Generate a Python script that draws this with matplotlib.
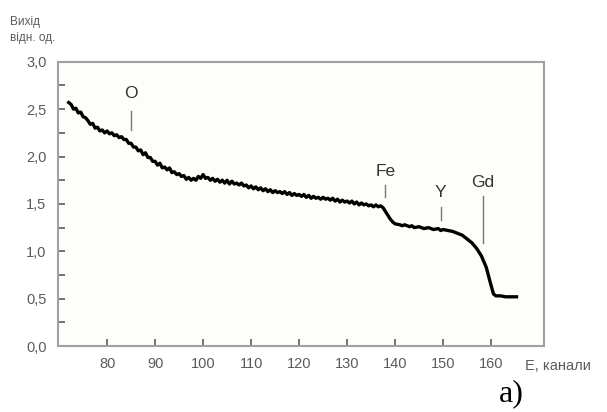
import matplotlib.pyplot as plt
from matplotlib.ticker import MultipleLocator

# вихід по каналах (зчитано з рисунку)
channels = [72, 72.5, 73, 73.5, 74, 74.5, 75, 75.5, 76, 76.5, 77, 77.5, 78, 78.5, 79, 79.5,
            80, 80.5, 81, 81.5, 82, 82.5, 83, 83.5, 84, 84.5, 85, 85.5, 86, 86.5, 87, 87.5,
            88, 88.5, 89, 89.5, 90, 90.5, 91, 91.5, 92, 92.5, 93, 93.5, 94, 94.5, 95, 95.5,
            96, 96.5, 97, 97.5, 98, 98.5, 99, 99.5, 100, 100.5, 101, 101.5, 102, 102.5,
            103, 103.5, 104, 104.5, 105, 105.5, 106, 106.5, 107, 107.5, 108, 108.5,
            109, 109.5, 110, 110.5, 111, 111.5, 112, 112.5, 113, 113.5, 114, 114.5,
            115, 115.5, 116, 116.5, 117, 117.5, 118, 118.5, 119, 119.5, 120, 120.5,
            121, 121.5, 122, 122.5, 123, 123.5, 124, 124.5, 125, 125.5, 126, 126.5,
            127, 127.5, 128, 128.5, 129, 129.5, 130, 130.5, 131, 131.5, 132, 132.5,
            133, 133.5, 134, 134.5, 135, 135.5, 136, 136.5, 137, 137.5,
            138, 138.5, 139, 139.5, 140, 141, 141.5, 142, 143, 143.5, 144, 145, 146,
            147, 148, 149, 149.5, 150, 151, 152, 153, 154, 155, 156, 157, 158, 159,
            160, 160.5, 161, 162, 163, 164, 165.3]
yields = [2.57, 2.55, 2.50, 2.51, 2.46, 2.47, 2.42, 2.41, 2.38, 2.34, 2.35, 2.30, 2.31, 2.27,
          2.28, 2.25, 2.27, 2.24, 2.25, 2.22, 2.23, 2.20, 2.21, 2.18, 2.18, 2.14, 2.14, 2.10,
          2.10, 2.06, 2.07, 2.02, 2.04, 1.99, 1.99, 1.95, 1.95, 1.91, 1.93, 1.88, 1.89, 1.86,
          1.88, 1.83, 1.84, 1.81, 1.82, 1.79, 1.80, 1.76, 1.78, 1.75, 1.77, 1.75, 1.79, 1.77,
          1.81, 1.77, 1.78, 1.75, 1.77, 1.74, 1.76, 1.73, 1.75, 1.72, 1.75, 1.71, 1.74, 1.71,
          1.72, 1.70, 1.72, 1.69, 1.70, 1.67, 1.69, 1.66, 1.68, 1.65, 1.67, 1.64, 1.66, 1.63,
          1.65, 1.62, 1.64, 1.62, 1.63, 1.61, 1.63, 1.60, 1.62, 1.59, 1.61, 1.59, 1.60, 1.58,
          1.60, 1.57, 1.59, 1.56, 1.58, 1.56, 1.57, 1.55, 1.57, 1.55, 1.56, 1.54, 1.56, 1.53,
          1.55, 1.52, 1.54, 1.52, 1.53, 1.51, 1.53, 1.50, 1.52, 1.49, 1.51, 1.49, 1.50, 1.48,
          1.49, 1.47, 1.49, 1.47, 1.48, 1.46,
          1.42, 1.38, 1.34, 1.31, 1.29, 1.28, 1.27, 1.28, 1.26, 1.27, 1.25, 1.26, 1.24,
          1.25, 1.23, 1.24, 1.22, 1.23, 1.22, 1.21, 1.19, 1.17, 1.13, 1.09, 1.03, 0.95, 0.83,
          0.64, 0.55, 0.53, 0.53, 0.52, 0.52, 0.52]

# позначки елементів
elements = ['O', 'Fe', 'Y', 'Gd']
elem_x = [85, 138, 149.5, 158.3]
elem_text_y = [2.67, 1.84, 1.62, 1.73]
elem_line_lo = [2.28, 1.57, 1.33, 1.09]
elem_line_hi = [2.48, 1.70, 1.47, 1.58]

yticks = [0.0, 0.5, 1.0, 1.5, 2.0, 2.5, 3.0]
ytick_labels = ['0,0', '0,5', '1,0', '1,5', '2,0', '2,5', '3,0']
xticks = [80, 90, 100, 110, 120, 130, 140, 150, 160]

grey = '#5a5a5a'
frame = '#a0a0a0'

fig = plt.figure(figsize=(6.07, 4.12), dpi=100, facecolor='white')
ax = fig.add_axes([0.095, 0.160, 0.801, 0.690])
ax.set_facecolor('#fdfdf9')

ax.plot(channels, yields, color='black', lw=2.4, solid_joinstyle='round')

for name, x, ty, lo, hi in zip(elements, elem_x, elem_text_y, elem_line_lo, elem_line_hi):
    ax.plot([x, x], [lo, hi], color='#777777', lw=1)
    ax.text(x, ty, name, ha='center', va='center', fontsize=12.5,
            family='Liberation Sans', color='#333333')

ax.set_xlim(69.7, 171)
ax.set_ylim(0, 3.0)
ax.set_xticks(xticks)
ax.set_xticklabels([str(v) for v in xticks])
ax.set_yticks(yticks)
ax.set_yticklabels(ytick_labels)
ax.yaxis.set_minor_locator(MultipleLocator(0.25))

for s in ax.spines.values():
    s.set_color(frame)
    s.set_linewidth(1.5)

ax.tick_params(axis='both', direction='in', color=grey, width=1.2, length=5,
               labelsize=10.5, labelcolor=grey, pad=8)
ax.tick_params(axis='y', which='minor', direction='in', color=grey, width=1.2, length=5)
for lab in ax.get_xticklabels() + ax.get_yticklabels():
    lab.set_family('Liberation Sans')

fig.text(0.017, 0.96, 'Вихід\nвідн. од.', ha='left', va='top', fontsize=8.5,
         color=grey, family='Liberation Sans', linespacing=1.4)
fig.text(0.865, 0.112, 'E, канали', ha='left', va='center', fontsize=10.5,
         color=grey, family='Liberation Sans')
fig.text(0.822, 0.045, 'a)', ha='left', va='center', fontsize=23,
         color='black', family='Liberation Serif')

fig.savefig('out.png', dpi=100)
